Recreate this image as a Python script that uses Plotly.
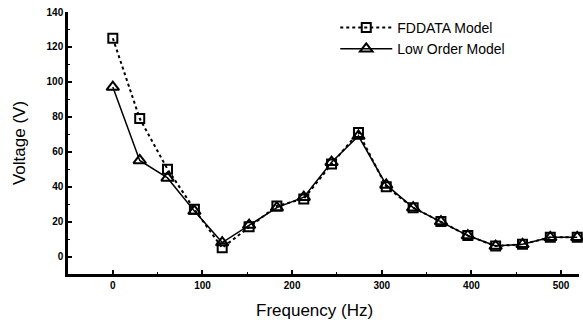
import plotly.graph_objects as go

freq = [0, 30, 61, 91, 122, 152, 183, 213, 244, 274, 305, 335, 366, 396, 427, 457, 488, 518]
fddata = [125, 79, 50, 27, 5, 17, 29, 33, 53, 71, 40, 28, 20, 12, 6, 7, 11, 11]
low_order = [97, 55, 45, 26, 8, 18, 28, 34, 54, 69, 41, 28, 20, 12, 6, 7, 11, 11]

x_ticks = [0, 100, 200, 300, 400, 500]
y_ticks = [0, 20, 40, 60, 80, 100, 120, 140]
x_range = [-50, 520]
y_range = [-10, 140]

font_family = "Liberation Sans, Arial, sans-serif"

fig = go.Figure()
fig.add_trace(go.Scatter(
    x=freq, y=fddata, name="FDDATA Model", mode="lines+markers",
    line=dict(color="black", width=2, dash="3px,3px"),
    marker=dict(symbol="square-open", size=9, color="black", line=dict(width=2, color="black")),
    cliponaxis=False,
))
fig.add_trace(go.Scatter(
    x=freq, y=low_order, name="Low Order Model", mode="lines+markers",
    line=dict(color="black", width=1.5),
    marker=dict(symbol="triangle-up-open", size=11, color="black", line=dict(width=2, color="black")),
    cliponaxis=False,
))

fig.add_annotation(text="Frequency (Hz)", xref="paper", yref="paper",
                   x=0.483, y=0, yshift=-36, yanchor="middle", showarrow=False,
                   font=dict(size=17, family=font_family, color="black"))

fig.update_layout(
    width=583, height=320,
    margin=dict(l=68, r=4, t=12, b=46),
    paper_bgcolor="white", plot_bgcolor="white",
    font=dict(family=font_family, color="black", size=10),
    showlegend=True,
    legend=dict(x=0.523, y=1.0, xanchor="left", yanchor="top",
                font=dict(size=14, family=font_family, color="black"),
                bgcolor="rgba(0,0,0,0)", tracegroupgap=0, itemwidth=52),
    xaxis=dict(
        range=x_range, showgrid=False, zeroline=False,
        showline=True, linecolor="black", linewidth=2.5,
        ticks="inside", ticklen=4, tickwidth=1.5, tickcolor="black",
        tickvals=x_ticks,
        minor=dict(ticks="inside", ticklen=2, tickwidth=1, tickcolor="black", dtick=50),
        tickfont=dict(size=10, family=font_family, weight="bold"),
    ),
    yaxis=dict(
        range=y_range, showgrid=False, zeroline=False,
        showline=True, linecolor="black", linewidth=2.5,
        ticks="inside", ticklen=4, tickwidth=1.5, tickcolor="black",
        tickvals=y_ticks,
        minor=dict(ticks="inside", ticklen=2, tickwidth=1, tickcolor="black", dtick=10),
        tickfont=dict(size=10, family=font_family, weight="bold"),
        title=dict(text="Voltage (V)", font=dict(size=17, family=font_family), standoff=17),
    ),
)

fig.write_html("out.html")
